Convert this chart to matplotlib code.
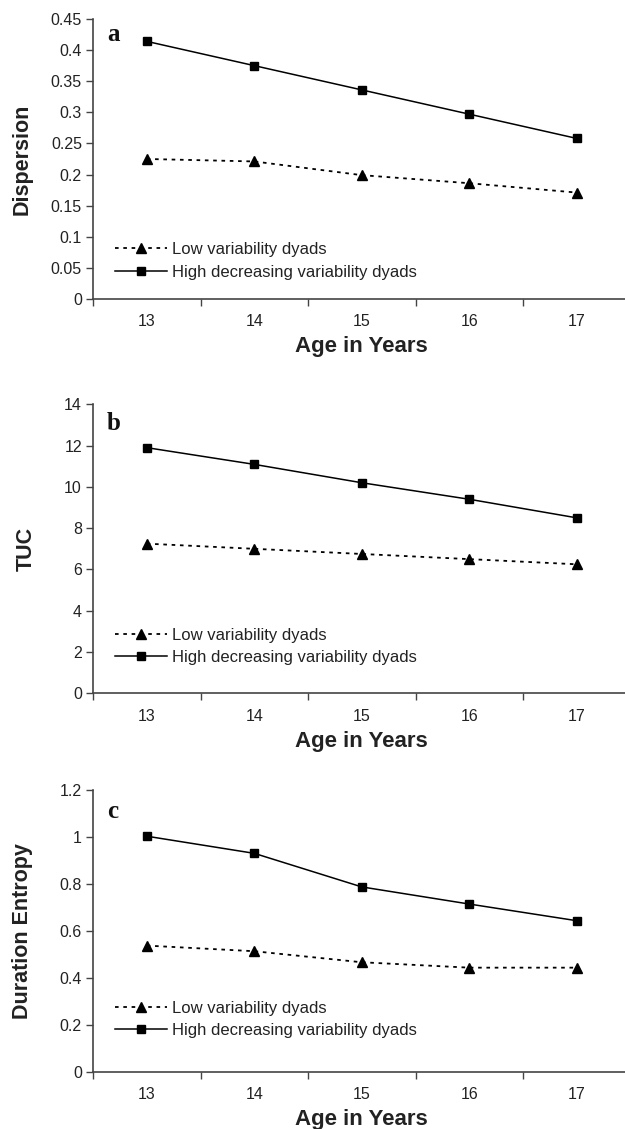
import numpy as np
import matplotlib
matplotlib.use("Agg")
import matplotlib.pyplot as plt

plt.rcParams['font.family'] = ['Liberation Sans', 'DejaVu Sans']

ages = ['13', '14', '15', '16', '17']

disp_low = [0.225, 0.221, 0.199, 0.186, 0.171]
disp_high = [0.414, 0.375, 0.336, 0.297, 0.258]

tuc_low = [7.25, 7.0, 6.75, 6.5, 6.25]
tuc_high = [11.9, 11.09, 10.2, 9.4, 8.5]

ent_low = [0.537, 0.513, 0.466, 0.443, 0.443]
ent_high = [1.003, 0.930, 0.787, 0.714, 0.643]

low_label = 'Low variability dyads'
high_label = 'High decreasing variability dyads'

panels = [
    # letter, ylabel, low, high, ymax, ystep, axes rect, yticklabels
    ('a', 'Dispersion', disp_low, disp_high, 0.45, 0.05,
     [0.1488, 0.7352, 0.86, 0.248],
     ['0', '0.05', '0.1', '0.15', '0.2', '0.25', '0.3', '0.35', '0.4', '0.45']),
    ('b', 'TUC', tuc_low, tuc_high, 14, 2,
     [0.1488, 0.3859, 0.86, 0.256],
     ['0', '2', '4', '6', '8', '10', '12', '14']),
    ('c', 'Duration Entropy', ent_low, ent_high, 1.2, 0.2,
     [0.1488, 0.0508, 0.86, 0.2495],
     ['0', '0.2', '0.4', '0.6', '0.8', '1', '1.2']),
]

ylabel_x = {'a': -0.112, 'b': -0.104, 'c': -0.112}
legend_y = {'a': 0.136, 'b': 0.162, 'c': 0.186}
letter_y = {'a': 0.946, 'b': 0.935, 'c': 0.922}

fig = plt.figure(figsize=(6.25, 11.29), dpi=100)
ax_col = '#444444'
txt_col = '#222222'

for letter, ylab, low, high, ymax, ystep, rect, yt in panels:
    ax = fig.add_axes(rect)
    x = np.arange(1, len(ages) + 1)
    ax.plot(x, low, color='black', lw=1.3, dashes=(2, 2.6),
            marker='^', ms=6.5, mfc='black', mec='black', label=low_label)
    ax.plot(x, high, color='black', lw=1.1, marker='s', ms=5.5,
            mfc='black', mec='black', label=high_label)

    ax.set_xlim(0.5, 5.5)
    ax.set_ylim(0, ymax)
    yticks = np.arange(0, ymax + ystep / 2, ystep)
    ax.set_yticks(yticks)
    ax.set_yticklabels(yt)

    # category boundaries get ticks, labels sit at centres
    ax.set_xticks(np.arange(0.5, 6.0, 1.0))
    ax.set_xticklabels([])
    ax.set_xticks(x, minor=True)
    ax.set_xticklabels(ages, minor=True)
    ax.tick_params(axis='x', which='minor', length=0, pad=11,
                   labelsize=11.5, labelcolor=txt_col)
    ax.tick_params(axis='x', which='major', length=5, direction='out',
                   color=ax_col, width=1)
    ax.tick_params(axis='y', length=5, direction='out', color=ax_col,
                   width=1, labelsize=11.5, labelcolor=txt_col, pad=3)

    for s in ['top', 'right']:
        ax.spines[s].set_visible(False)
    for s in ['left', 'bottom']:
        ax.spines[s].set_color(ax_col)
        ax.spines[s].set_linewidth(1.2)

    ax.set_xlabel('Age in Years', fontsize=16, fontweight='bold',
                  color=txt_col, labelpad=5)
    ax.set_ylabel(ylab, fontsize=15.5, fontweight='bold', color=txt_col)
    ax.yaxis.set_label_coords(ylabel_x[letter], 0.5)

    ax.text(0.026, letter_y[letter], letter, transform=ax.transAxes,
            fontsize=18, fontweight='bold',
            family=['Liberation Serif', 'DejaVu Serif'],
            va='center', ha='left', color='#111111')

    leg = ax.legend(loc='center left', bbox_to_anchor=(0.041, legend_y[letter]),
                    frameon=False, fontsize=12, handlelength=3.1,
                    handletextpad=0.3, labelspacing=0.45, borderaxespad=0,
                    borderpad=0)
    for t in leg.get_texts():
        t.set_color(txt_col)

fig.savefig('out.png', dpi=100)
